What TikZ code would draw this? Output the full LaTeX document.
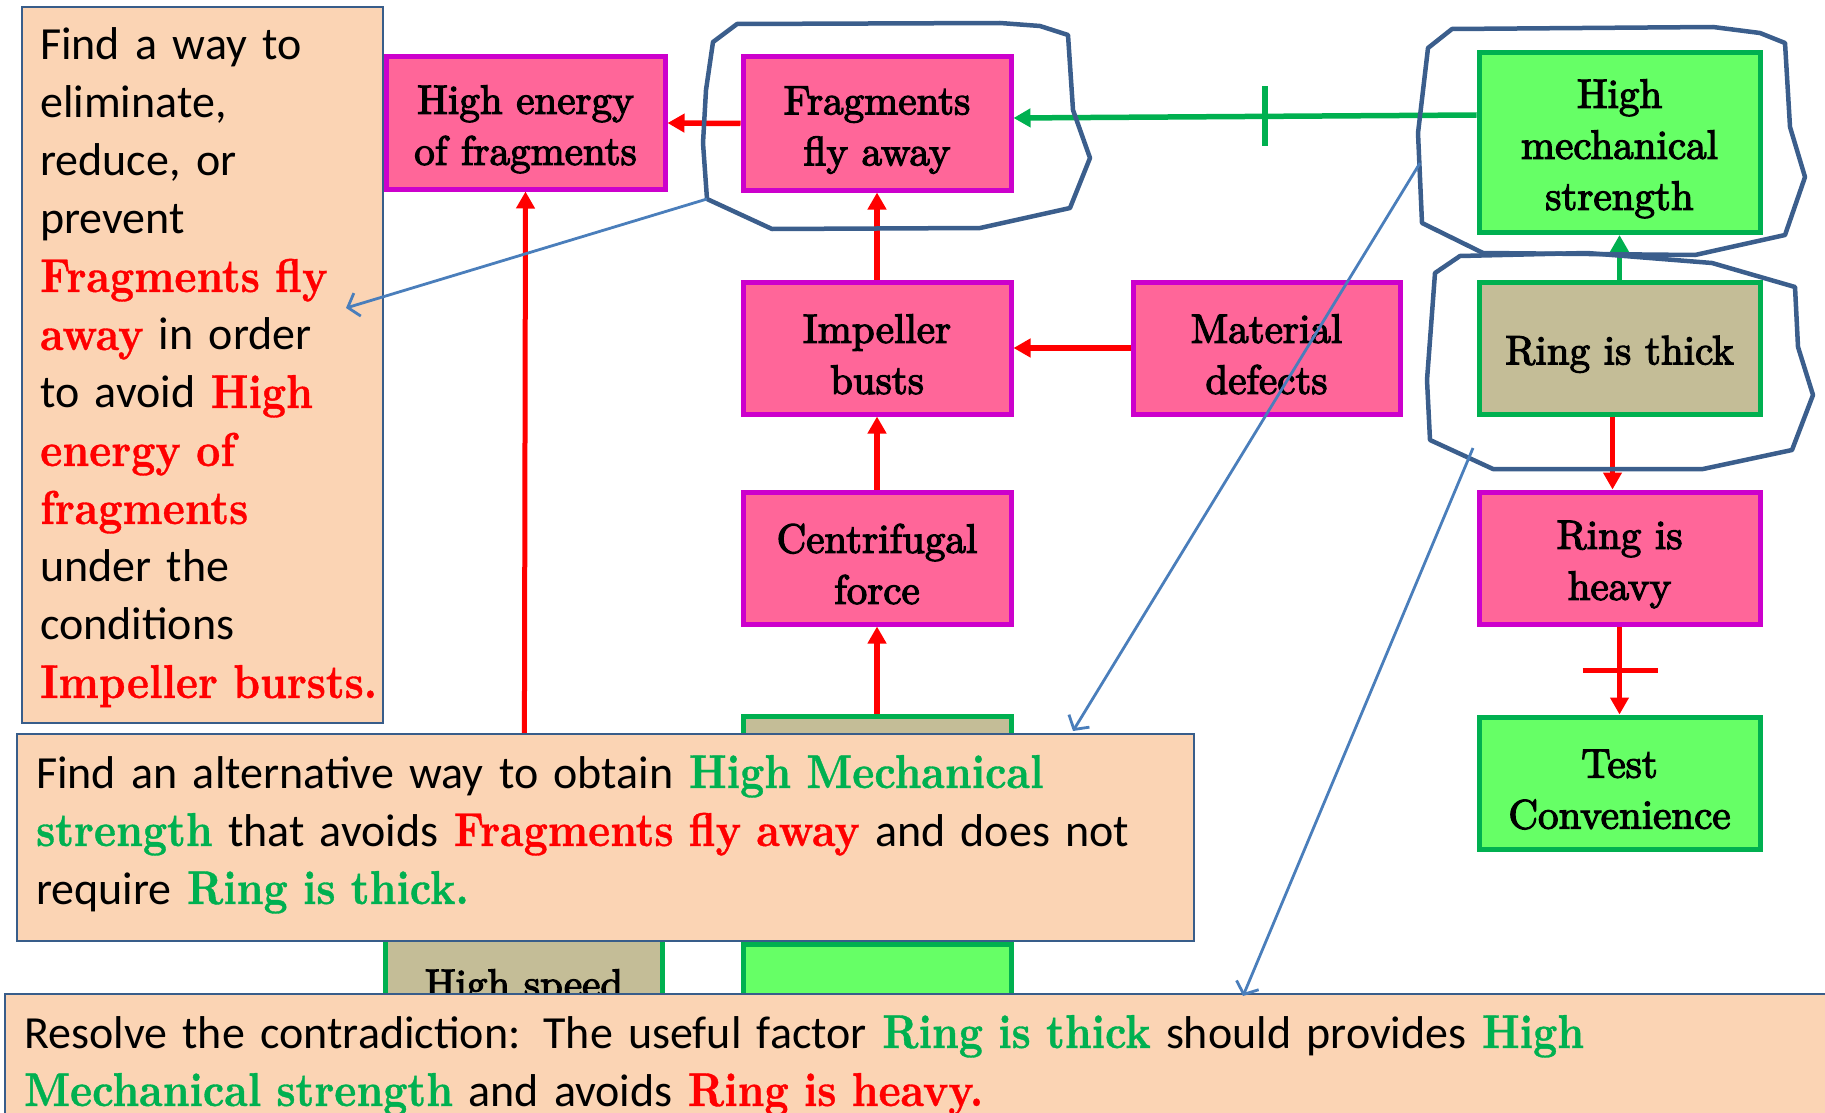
\documentclass[tikz,border=0pt]{standalone}
\usepackage{fontspec}
\usetikzlibrary{arrows.meta,calc}
\newfontfamily\calfont{Carlito}
\newfontfamily\nodeserif{lmroman10-regular.otf}[FakeBold=3]
\newfontfamily\emserif{lmroman10-bold.otf}[FakeBold=0.8]
\definecolor{pinkfill}{HTML}{FF6699}
\definecolor{magborder}{HTML}{CC00CC}
\definecolor{greenfill}{HTML}{66FF66}
\definecolor{greenborder}{HTML}{00B050}
\definecolor{tanfill}{HTML}{C4BD97}
\definecolor{peach}{HTML}{FBD4B4}
\definecolor{noteborder}{HTML}{385D8A}
\definecolor{blobblue}{HTML}{3B5E8C}
\definecolor{pointerblue}{HTML}{4A7EBB}
\definecolor{emred}{HTML}{FF0000}
\definecolor{emgreen}{HTML}{00B050}
\newcommand\emr[1]{{\color{emred}\scalebox{1}[1.13]{\emserif\fontsize{42}{58}\selectfont #1}}}
\newcommand\emg[1]{{\color{emgreen}\scalebox{1}[1.13]{\emserif\fontsize{42}{58}\selectfont #1}}}
\newcommand\nodefont{\nodeserif\fontsize{41}{51}\selectfont}
\newcommand\notefont{\calfont\fontsize{46}{58}\selectfont}
\newcommand\fs{\rule{0pt}{41pt}}
\tikzset{
  basebox/.style={line width=5pt, inner sep=0pt, align=center, font=\nodefont},
  causebox/.style={basebox, draw=magborder, fill=pinkfill},
  goodbox/.style={basebox, draw=greenborder, fill=greenfill},
  tanbox/.style={basebox, draw=greenborder, fill=tanfill},
  notebox/.style={draw=noteborder, fill=peach, line width=2pt, inner sep=0pt, anchor=north west},
  notetext/.style={anchor=base west, inner sep=0pt, align=left, text width=1700pt, font=\notefont},
  redarrow/.style={draw=emred, line width=5.5pt, -{Triangle[length=17pt,width=18pt]}},
  greenarrow/.style={draw=emgreen, line width=5.5pt, -{Triangle[length=17pt,width=18pt]}},
  tick/.style={line width=5.5pt},
  blob/.style={draw=blobblue, line width=4.5pt, line join=round},
  pointer/.style={draw=pointerblue, line width=2.8pt, -{Straight Barb[length=10pt,width=24pt]}}
}
\begin{document}
\begin{tikzpicture}[x=1pt,y=-1pt]
\useasboundingbox (0,0) rectangle (1825,1113);
\clip (0,0) rectangle (1825,1113);
% hidden boxes
\node[tanbox, minimum width=277pt, minimum height=87pt] (hs) at (524,981.5) {\fs High speed};
\node[goodbox, minimum width=268pt, minimum height=87pt] (greenmid) at (877,987.5) {};
\node[tanbox, minimum width=268pt, minimum height=132pt] (tanmid) at (877,782) {};
% cause nodes
\node[causebox, minimum width=279pt, minimum height=132pt] (henergy) at (525.5,123) {\fs High energy\\of fragments};
\node[causebox, minimum width=268pt, minimum height=133pt] (ffa) at (877,123.5) {\fs Fragments\\fly away};
\node[causebox, minimum width=268pt, minimum height=132pt] (ib) at (877,348) {\fs Impeller\\busts};
\node[causebox, minimum width=267pt, minimum height=132pt] (md) at (1266.5,348) {\fs Material\\defects};
\node[causebox, minimum width=268pt, minimum height=132pt] (cf) at (877,558) {\fs Centrifugal\\force};
\node[goodbox, minimum width=281pt, minimum height=180pt] (hms) at (1619.5,142.5) {\fs High\\mechanical\\strength};
\node[tanbox, minimum width=281pt, minimum height=132pt] (rit) at (1619.5,348) {\fs Ring is thick};
\node[causebox, minimum width=281pt, minimum height=132pt] (rih) at (1619.5,558) {\fs Ring is\\heavy};
\node[goodbox, minimum width=281pt, minimum height=132pt] (tc) at (1619.5,783) {\fs Test\\Convenience};
% red arrows
\draw[redarrow] (ffa.west) -- (henergy.east);
\draw[redarrow] (ib.north) -- (ffa.south);
\draw[redarrow, line width=6pt] (md.west) -- (ib.east);
\draw[redarrow] (cf.north) -- (ib.south);
\draw[redarrow] (tanmid.north) -- (cf.south);
\draw[redarrow, line width=5pt] (hs.north) -- (henergy.south);
\draw[redarrow] ([xshift=-7pt]rit.south) -- ([xshift=-7pt]rih.north);
\draw[redarrow] (rih.south) -- (tc.north) coordinate[pos=0.5] (rcross);
\draw[draw=emred, tick] ([xshift=-37pt]rcross) -- ([xshift=38pt]rcross);
% green arrows
\draw[greenarrow] ([yshift=27.5pt]hms.west) -- ([yshift=5.5pt]ffa.east) coordinate[pos=0.457] (gtick);
\draw[draw=emgreen, tick] ([yshift=30pt]gtick) -- ([yshift=-30pt]gtick);
\draw[greenarrow] (rit.north) -- (hms.south);
% blobs
\draw[blob] (737,24) -- (1000,23) -- (1040,26) -- (1068,35) -- (1073,110) -- (1090,158) -- (1070,208) -- (980,228) -- (772,229) -- (707,199) -- (703,143) -- (706,90) -- (713,42) -- cycle;
\draw[blob] (1452,29) -- (1713,27) -- (1760,33) -- (1785,43) -- (1790,127) -- (1805,177) -- (1785,235) -- (1695,255) -- (1483,253) -- (1422,223) -- (1418,133) -- (1428,48) -- cycle;
\draw[blob] (1460,256) -- (1587,253) -- (1712,263) -- (1795,287) -- (1798,347) -- (1813,395) -- (1792,450) -- (1703,469) -- (1493,469) -- (1430,440) -- (1427,380) -- (1435,273) -- cycle;
% notes
\node[notebox, minimum width=361pt, minimum height=716pt] (leftnote) at (21,6) {};
\node[notetext] (lefttext) at (40,60) {Find a way to\\eliminate,\\reduce, or\\prevent\\\emr{Fragments fly}\\\emr{away} in order\\to avoid \emr{High}\\\emr{energy of}\\\emr{fragments}\\under the\\conditions\\\emr{Impeller bursts.}};
\node[notebox, minimum width=1177pt, minimum height=207pt] (midnote) at (16,733) {};
\node[notetext] (midtext) at (36,788) {Find an alternative way to obtain \emg{High Mechanical}\\\emg{strength} that avoids \emr{Fragments fly away} and does not\\require \emg{Ring is thick.}};
\node[notebox, minimum width=1840pt, minimum height=140pt] (botnote) at (4,993) {};
\node[notetext] (bottext) at (24,1048) {Resolve the contradiction: The useful factor \emg{Ring is thick} should provides \emg{High}\\\emg{Mechanical strength} and avoids \emr{Ring is heavy.}};
% pointers
\coordinate (p1s) at (707,199);
\coordinate (p1e) at (346,308);
\coordinate (p2s) at (1420,163);
\coordinate (p2e) at (1073,731);
\coordinate (p3s) at (1473,448);
\coordinate (p3e) at (1243,996);
\draw[pointer] (p1s) -- (p1e);
\draw[pointer] (p2s) -- (p2e);
\draw[pointer] (p3s) -- (p3e);
\end{tikzpicture}
\end{document}
